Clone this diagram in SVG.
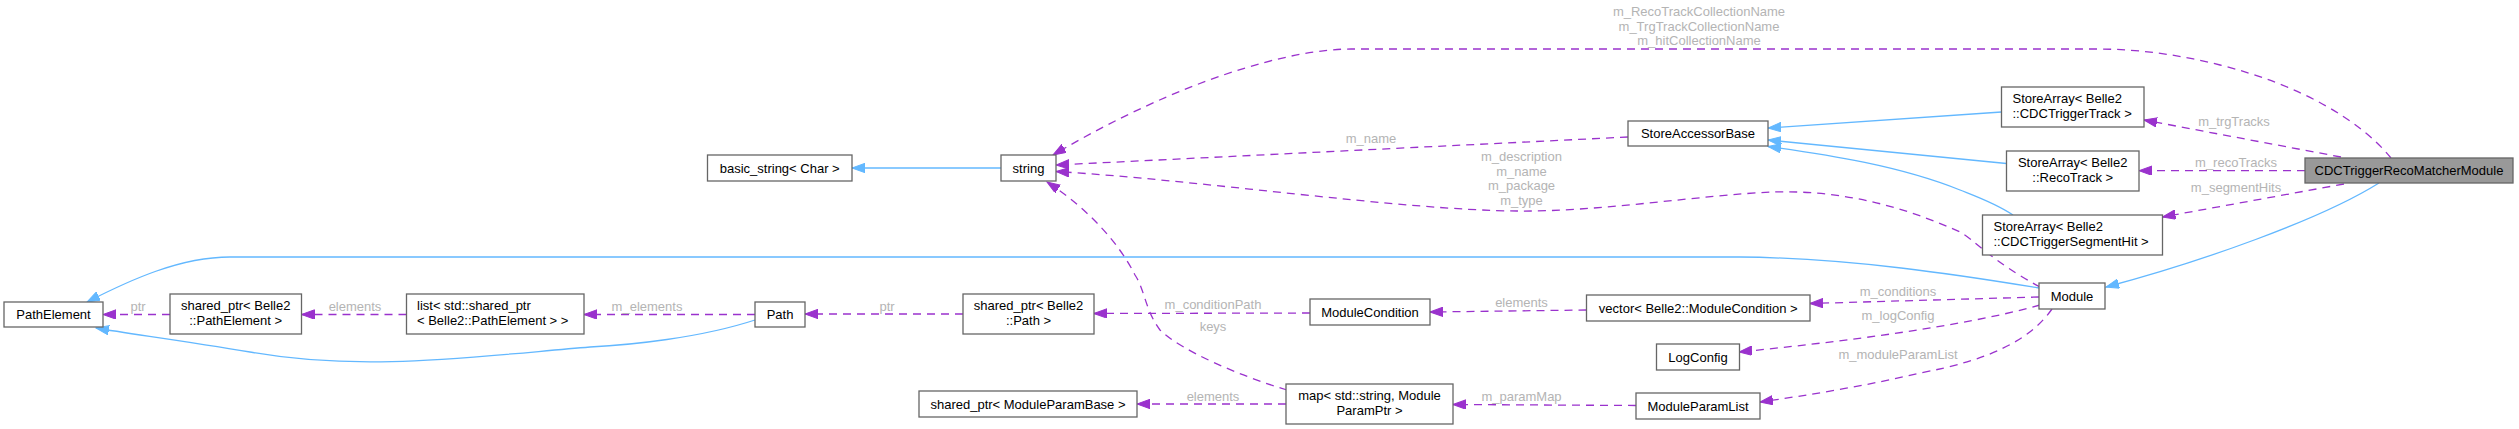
<svg xmlns="http://www.w3.org/2000/svg" width="2519" height="429" viewBox="0 0 2519 429">
<style>
text{font-family:"Liberation Sans",Arial,Helvetica,sans-serif;font-size:13px;fill:#000}
.n rect{fill:#fff;stroke:#666;stroke-width:1.3}
.n.main rect{fill:#999}
.c{text-anchor:middle}
.l{text-anchor:start}
.lbl{fill:#b4b4b4;text-anchor:middle}
.inh{fill:none;stroke:#63b8ff;stroke-width:1.3;marker-end:url(#ab)}
.use{fill:none;stroke:#9a32cd;stroke-width:1.3;stroke-dasharray:8,6;marker-end:url(#ap)}
</style>
<defs>
<marker id="ab" markerUnits="userSpaceOnUse" markerWidth="14" markerHeight="10" refX="13" refY="4.7" orient="auto"><path d="M0,0 L13,4.7 L0,9.4 z" fill="#63b8ff" stroke="#63b8ff" stroke-width="1"/></marker>
<marker id="ap" markerUnits="userSpaceOnUse" markerWidth="14" markerHeight="10" refX="13" refY="4.7" orient="auto"><path d="M0,0 L13,4.7 L0,9.4 z" fill="#9a32cd" stroke="#9a32cd" stroke-width="1"/></marker>
</defs>
<rect width="2519" height="429" fill="#fff"/>
<g id="edges">
<path class="inh" d="M1001,168 L852,168"/>
<path class="inh" d="M755,320 C700,338 630,345 590,347 C470,357 360,372 250,352 C180,340 130,334 96,328"/>
<path class="inh" d="M2039,288 C1960,275 1850,258 1740,257 L230,257 C180,257 130,280 87,302"/>
<path class="inh" d="M2001.5,112 L1768,128"/>
<path class="inh" d="M2006.5,163.5 L1768,140"/>
<path class="inh" d="M2013,215 C1995,203 1975,196 1960,190 C1900,166 1830,155 1768,146.5"/>
<path class="inh" d="M2379,183 C2320,220 2200,262 2106,287"/>
<path class="use" d="M2391,158 C2360,120 2300,85 2220,65 C2180,55 2140,49 2096,49 L1351,49 C1290,49 1180,80 1053,155"/>
<text class="lbl" x="1699" y="16">m_RecoTrackCollectionName</text>
<text class="lbl" x="1699" y="30.5">m_TrgTrackCollectionName</text>
<text class="lbl" x="1699" y="45">m_hitCollectionName</text>
<path class="use" d="M1628,137 L1056,165"/>
<text class="lbl" x="1371" y="143">m_name</text>
<path class="use" d="M2040,287 C1990,260 1975,240 1960,232 C1900,205 1840,190 1773,192 C1700,195 1600,212 1517,211 C1400,210 1200,180 1056,171.5"/>
<text class="lbl" x="1521.5" y="161">m_description</text>
<text class="lbl" x="1521.5" y="175.5">m_name</text>
<text class="lbl" x="1521.5" y="190">m_package</text>
<text class="lbl" x="1521.5" y="204.5">m_type</text>
<path class="use" d="M2039,297 L1810,303.5"/>
<text class="lbl" x="1898" y="296">m_conditions</text>
<path class="use" d="M2040,305 C1980,322 1880,338 1739,352"/>
<text class="lbl" x="1898" y="320">m_logConfig</text>
<path class="use" d="M2052,309 C2030,340 1990,360 1920,373 C1870,385 1810,395 1760,402"/>
<text class="lbl" x="1898" y="358.5">m_moduleParamList</text>
<path class="use" d="M1586.5,310 L1430,312"/>
<text class="lbl" x="1521.5" y="307">elements</text>
<path class="use" d="M1310,313 L1094,313.5"/>
<text class="lbl" x="1213" y="308.5">m_conditionPath</text>
<path class="use" d="M963,314 L805,314"/>
<text class="lbl" x="887" y="311">ptr</text>
<path class="use" d="M755,314.5 L584,314.5"/>
<text class="lbl" x="647" y="311">m_elements</text>
<path class="use" d="M406.5,314.5 L301.5,314.5"/>
<text class="lbl" x="355" y="311">elements</text>
<path class="use" d="M170,314.5 L103,314.5"/>
<text class="lbl" x="138" y="311">ptr</text>
<path class="use" d="M1287,390 C1240,376 1180,350 1160,330 C1145,310 1145,290 1135,275 C1120,245 1090,210 1047,182"/>
<text class="lbl" x="1213" y="331">keys</text>
<path class="use" d="M1286,404 L1137,404"/>
<text class="lbl" x="1213" y="400.5">elements</text>
<path class="use" d="M1636,405.5 L1453,404.5"/>
<text class="lbl" x="1521.5" y="400.5">m_paramMap</text>
<path class="use" d="M2341,157 L2144,120"/>
<text class="lbl" x="2234" y="125.5">m_trgTracks</text>
<path class="use" d="M2305,170.7 L2139,170.7"/>
<text class="lbl" x="2236" y="167">m_recoTracks</text>
<path class="use" d="M2344,184 L2162.5,217"/>
<text class="lbl" x="2236" y="192">m_segmentHits</text>
</g>
<g id="node-main" class="n main"><rect x="2305" y="158" width="208" height="25"/><text class="c" x="2409" y="175">CDCTriggerRecoMatcherModule</text></g>
<g id="node-string" class="n"><rect x="1001" y="155" width="55" height="26"/><text class="c" x="1028.5" y="172.5">string</text></g>
<g id="node-basic_string" class="n"><rect x="707.5" y="155" width="144.5" height="26"/><text class="c" x="779.7" y="172.5">basic_string&lt; Char &gt;</text></g>
<g id="node-StoreAccessorBase" class="n"><rect x="1628" y="121" width="140" height="25"/><text class="c" x="1698" y="138">StoreAccessorBase</text></g>
<g id="node-StoreArrayTrack" class="n"><rect x="2001.5" y="87" width="142.5" height="40"/><text class="l" x="2012.5" y="103">StoreArray&lt; Belle2</text><text class="l" x="2012.5" y="117.5">::CDCTriggerTrack &gt;</text></g>
<g id="node-StoreArrayReco" class="n"><rect x="2006.5" y="151" width="132.5" height="40"/><text class="c" x="2072.7" y="167">StoreArray&lt; Belle2</text><text class="c" x="2072.7" y="181.5">::RecoTrack &gt;</text></g>
<g id="node-StoreArraySeg" class="n"><rect x="1982.5" y="215" width="180" height="40"/><text class="l" x="1993.5" y="231">StoreArray&lt; Belle2</text><text class="l" x="1993.5" y="245.5">::CDCTriggerSegmentHit &gt;</text></g>
<g id="node-Module" class="n"><rect x="2039" y="283" width="66" height="26"/><text class="c" x="2072" y="300.5">Module</text></g>
<g id="node-PathElement" class="n"><rect x="4" y="302" width="99" height="25"/><text class="c" x="53.5" y="319">PathElement</text></g>
<g id="node-sp_PathElement" class="n"><rect x="170" y="294" width="131.5" height="40"/><text class="c" x="235.7" y="310">shared_ptr&lt; Belle2</text><text class="c" x="235.7" y="324.5">::PathElement &gt;</text></g>
<g id="node-list" class="n"><rect x="406.5" y="294" width="177.5" height="40"/><text class="l" x="417" y="310">list&lt; std::shared_ptr</text><text class="l" x="417" y="324.5">&lt; Belle2::PathElement &gt; &gt;</text></g>
<g id="node-Path" class="n"><rect x="755" y="302" width="50" height="25"/><text class="c" x="780" y="319">Path</text></g>
<g id="node-sp_Path" class="n"><rect x="963" y="294" width="131" height="40"/><text class="c" x="1028.5" y="310">shared_ptr&lt; Belle2</text><text class="c" x="1028.5" y="324.5">::Path &gt;</text></g>
<g id="node-ModuleCondition" class="n"><rect x="1310" y="299" width="120" height="26"/><text class="c" x="1370" y="316.5">ModuleCondition</text></g>
<g id="node-vector" class="n"><rect x="1586.5" y="295" width="223.5" height="26"/><text class="c" x="1698.2" y="312.5">vector&lt; Belle2::ModuleCondition &gt;</text></g>
<g id="node-LogConfig" class="n"><rect x="1656.5" y="344" width="83" height="26"/><text class="c" x="1698" y="361.5">LogConfig</text></g>
<g id="node-sp_ModuleParamBase" class="n"><rect x="919" y="391" width="218" height="26"/><text class="c" x="1028" y="408.5">shared_ptr&lt; ModuleParamBase &gt;</text></g>
<g id="node-map" class="n"><rect x="1286" y="384" width="167" height="40"/><text class="c" x="1369.5" y="400">map&lt; std::string, Module</text><text class="c" x="1369.5" y="414.5">ParamPtr &gt;</text></g>
<g id="node-ModuleParamList" class="n"><rect x="1636" y="393" width="124" height="26"/><text class="c" x="1698" y="410.5">ModuleParamList</text></g>
</svg>
